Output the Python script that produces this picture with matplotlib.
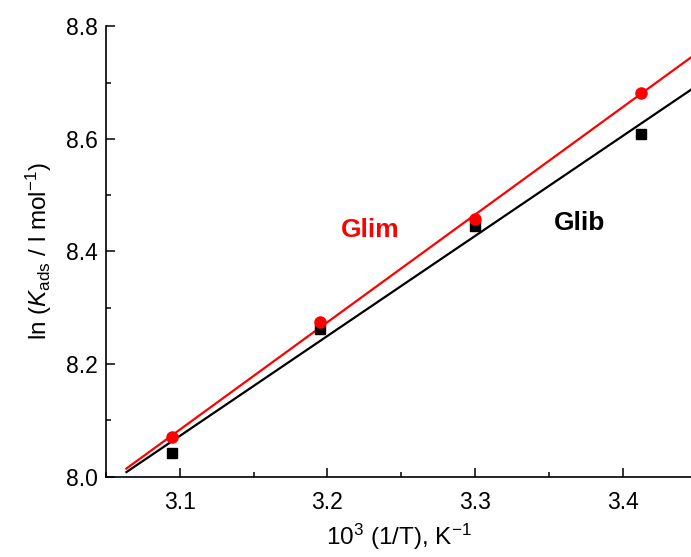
import numpy as np
import matplotlib
matplotlib.use("Agg")
import matplotlib.pyplot as plt
from matplotlib.ticker import MultipleLocator

plt.rcParams['font.family'] = ['Liberation Sans', 'DejaVu Sans']
plt.rcParams['mathtext.fontset'] = 'custom'
plt.rcParams['mathtext.rm'] = 'Liberation Sans'
plt.rcParams['mathtext.it'] = 'Liberation Sans:italic'
plt.rcParams['mathtext.bf'] = 'Liberation Sans:bold'

# 1000/T values and ln(K_ads) for the two inhibitors
inv_T = [3.095, 3.195, 3.300, 3.412]
ln_k_glim = [8.070, 8.275, 8.457, 8.682]
ln_k_glib = [8.043, 8.262, 8.445, 8.609]

fig = plt.figure(figsize=(6.91, 5.57), dpi=100)
ax = fig.add_axes([0.153, 0.144, 0.847, 0.809])

x_fit = np.array([3.064, 3.446])
for y, color, marker, ms in [(ln_k_glib, 'black', 's', 7), (ln_k_glim, 'red', 'o', 8)]:
    slope, icpt = np.polyfit(inv_T, y, 1)
    ax.plot(x_fit, slope * x_fit + icpt, color=color, lw=1.6, clip_on=False, zorder=2)
    ax.plot(inv_T, y, linestyle='none', marker=marker, color=color, ms=ms, zorder=3)

ax.text(0.452, 0.547, 'Glim', transform=ax.transAxes, color='red',
        fontsize=19, fontweight='bold', ha='center', va='center')
ax.text(0.81, 0.563, 'Glib', transform=ax.transAxes, color='black',
        fontsize=19, fontweight='bold', ha='center', va='center')

ax.set_xlim(3.05, 3.446)
ax.set_ylim(8.0, 8.8)
ax.xaxis.set_major_locator(MultipleLocator(0.1))
ax.xaxis.set_minor_locator(MultipleLocator(0.05))
ax.yaxis.set_major_locator(MultipleLocator(0.2))
ax.yaxis.set_minor_locator(MultipleLocator(0.1))
ax.xaxis.set_major_formatter(plt.FormatStrFormatter('%.1f'))
ax.yaxis.set_major_formatter(plt.FormatStrFormatter('%.1f'))

for side in ['top', 'right']:
    ax.spines[side].set_visible(False)
for side in ['left', 'bottom']:
    ax.spines[side].set_linewidth(1.2)

ax.tick_params(which='both', direction='in', width=1.1, labelsize=16.5)
ax.tick_params(which='major', length=6.5)
ax.tick_params(which='minor', length=3.5)
ax.tick_params(axis='x', which='major', pad=10)
ax.tick_params(axis='y', which='major', pad=6)

ax.set_xlabel(r'10$^{3}$ (1/T), K$^{-1}$', fontsize=17.5, labelpad=6)
ax.set_ylabel(r'ln ($K_{\mathrm{ads}}$ / l mol$^{-1}$)', fontsize=17.5, labelpad=8)

fig.savefig('out.png', dpi=100)
